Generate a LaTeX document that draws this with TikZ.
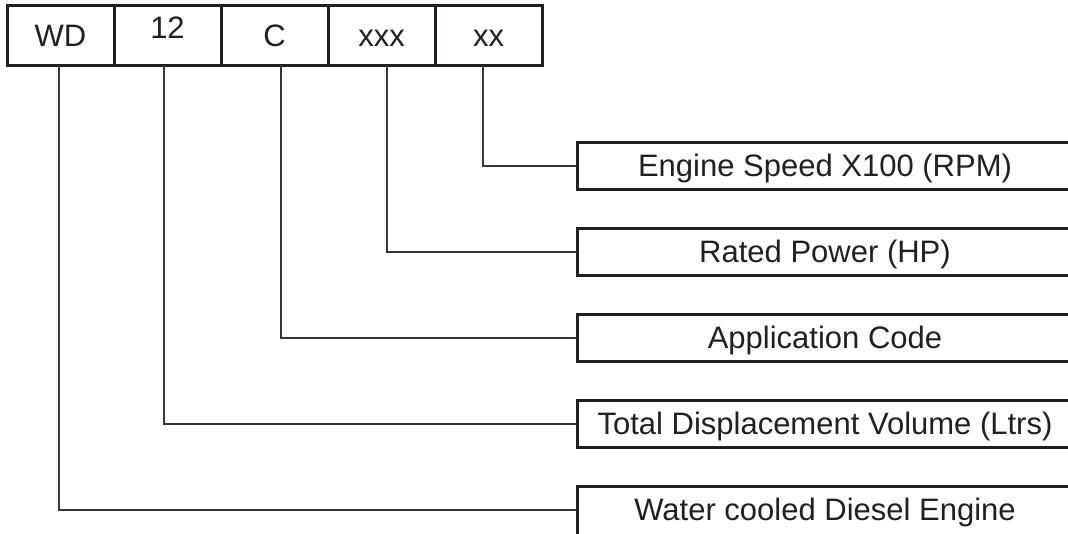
\documentclass[tikz,border=0pt]{standalone}
\usepackage{fontspec}
\setmainfont{Liberation Sans}
\usepackage{xcolor}
\usetikzlibrary{positioning}
\definecolor{ink}{HTML}{231F20}

\begin{document}
\begin{tikzpicture}[
  x=1pt, y=-1pt,
  font=\fontsize{31}{37}\selectfont,
  code/.style={draw=ink, line width=3pt, outer sep=0pt, inner sep=0pt, text=ink,
    minimum width=107pt, minimum height=60pt, text height=22pt, text depth=0pt},
  desc/.style={draw=ink, line width=3pt, outer sep=0pt, inner sep=0pt, text=ink,
    minimum width=496pt, minimum height=47pt, text height=22pt, text depth=0pt},
  lead/.style={draw=ink!90, line width=2pt}
]
\clip (0,0) rectangle (1068,533);
% model designation boxes
\node[code] (wd) at (60.5,35) {WD};
\node[code, right=0pt of wd] (vol) {\raisebox{8pt}{12}};
\node[code, right=0pt of vol] (app) {C};
\node[code, right=0pt of app] (pow) {xxx};
\node[code, right=0pt of pow] (rpm) {xx};
% meaning of each field
\node[desc, anchor=west] (drpm) at (577,165.5) {Engine Speed X100 (RPM)};
\node[desc, below=39pt of drpm] (dpow) {Rated Power (HP)};
\node[desc, below=39pt of dpow] (dapp) {Application Code};
\node[desc, below=39pt of dapp] (dvol) {Total Displacement Volume (Ltrs)};
\node[desc, below=39pt of dvol, minimum height=60pt, text depth=13pt] (dwd) {Water cooled Diesel Engine};
% leader lines
\draw[lead] ([xshift=-6pt]rpm.south) |- (drpm.west);
\draw[lead] ([xshift=5.5pt]pow.south) |- (dpow.west);
\draw[lead] ([xshift=6pt]app.south) |- (dapp.west);
\draw[lead] ([xshift=-3.5pt]vol.south) |- (dvol.west);
\draw[lead] ([xshift=-1.5pt]wd.south) |- ([yshift=6.5pt]dwd.west);
\end{tikzpicture}
\end{document}
